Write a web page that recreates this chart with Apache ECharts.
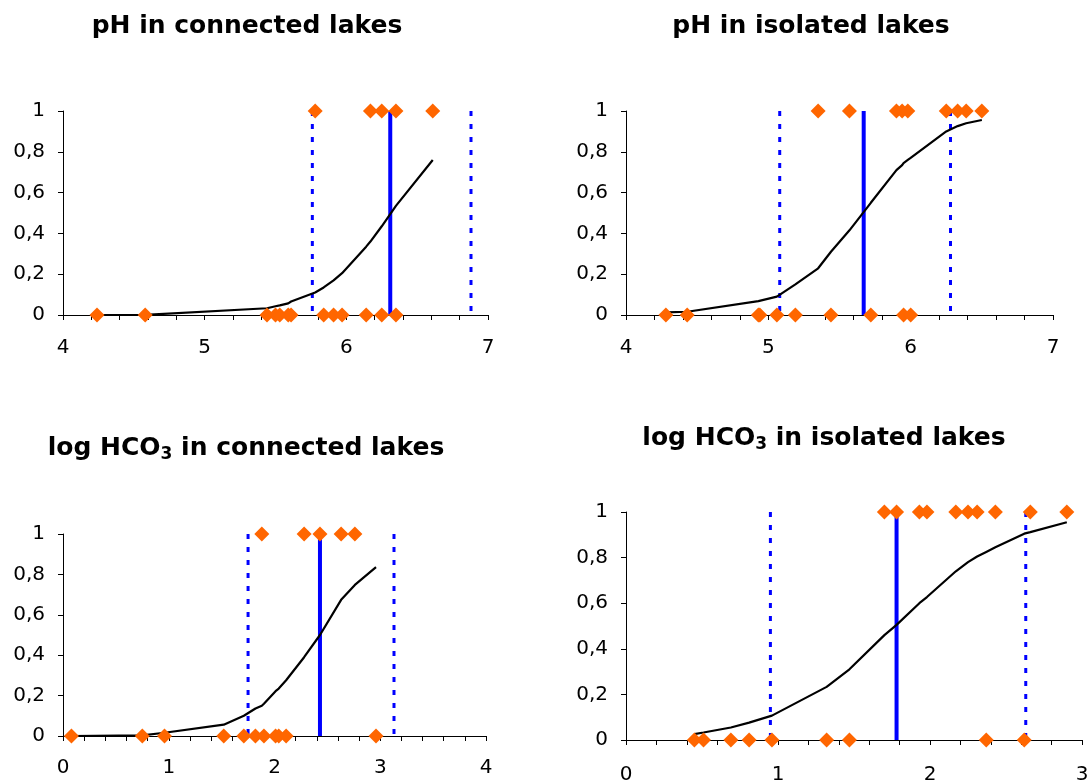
<!DOCTYPE html>
<html>
<head>
<meta charset="utf-8">
<script src="https://cdn.jsdelivr.net/npm/echarts@6/dist/echarts.min.js"></script>
<style>
  html, body { margin: 0; padding: 0; background: #fff; }
  #chart { width: 1088px; height: 782px; }
</style>
</head>
<body>
<div id="chart"></div>
<script>
// ---------- Titles ----------
const titles = ['pH in connected lakes', 'pH in isolated lakes', 'log HCO{sub|3} in connected lakes', 'log HCO{sub|3} in isolated lakes'];

// ---------- Axis ranges / tick labels ----------
const xMins = [4, 4, 0, 0];
const xMaxs = [7, 7, 4, 3];
const yTicks = [0, 0.2, 0.4, 0.6, 0.8, 1];

// ---------- Panel 1: pH in connected lakes ----------
const phConnAbsent = [4.24, 4.58, 5.44, 5.50, 5.53, 5.59, 5.61, 5.84, 5.91, 5.97, 6.14, 6.25, 6.35];
const phConnPresent = [5.78, 6.17, 6.25, 6.35, 6.61];
const phConnCurveX = [4.24, 4.58, 5.44, 5.50, 5.53, 5.59, 5.61, 5.78, 5.84, 5.91, 5.97, 6.14, 6.17, 6.25, 6.35, 6.61];
const phConnCurveY = [0.000, 0.001, 0.033, 0.043, 0.047, 0.057, 0.066, 0.110, 0.135, 0.170, 0.205, 0.335, 0.360, 0.435, 0.535, 0.760];
const phConnLines = { low: 5.76, mid: 6.31, high: 6.88 };

// ---------- Panel 2: pH in isolated lakes ----------
const phIsoAbsent = [4.28, 4.43, 4.93, 4.94, 5.06, 5.19, 5.44, 5.72, 5.95, 6.00];
const phIsoPresent = [5.35, 5.57, 5.90, 5.94, 5.98, 6.25, 6.33, 6.39, 6.50];
const phIsoCurveX = [4.28, 4.43, 4.93, 4.94, 5.06, 5.19, 5.35, 5.44, 5.57, 5.72, 5.90, 5.94, 5.95, 5.98, 6.00, 6.25, 6.33, 6.39, 6.50];
const phIsoCurveY = [0.013, 0.016, 0.068, 0.070, 0.090, 0.150, 0.229, 0.310, 0.415, 0.550, 0.710, 0.735, 0.745, 0.760, 0.770, 0.900, 0.926, 0.940, 0.956];
const phIsoLines = { low: 5.08, mid: 5.67, high: 6.28 };

// ---------- Panel 3: log HCO3 in connected lakes ----------
const hcoConnAbsent = [0.08, 0.75, 0.96, 1.52, 1.71, 1.82, 1.90, 2.01, 2.04, 2.11, 2.96];
const hcoConnPresent = [1.88, 2.28, 2.43, 2.63, 2.76];
const hcoConnCurveX = [0.08, 0.75, 0.96, 1.52, 1.71, 1.82, 1.88, 1.90, 2.01, 2.04, 2.11, 2.28, 2.43, 2.63, 2.76, 2.96];
const hcoConnCurveY = [0.000, 0.003, 0.016, 0.056, 0.100, 0.136, 0.150, 0.160, 0.222, 0.235, 0.276, 0.390, 0.500, 0.674, 0.748, 0.836];
const hcoConnLines = { low: 1.75, mid: 2.43, high: 3.13 };

// ---------- Panel 4: log HCO3 in isolated lakes ----------
const hcoIsoAbsent = [0.45, 0.51, 0.69, 0.81, 0.96, 1.32, 1.47, 2.37, 2.62];
const hcoIsoPresent = [1.70, 1.78, 1.93, 1.98, 2.17, 2.25, 2.31, 2.43, 2.66, 2.90];
const hcoIsoCurveX = [0.45, 0.51, 0.69, 0.81, 0.96, 1.32, 1.47, 1.70, 1.78, 1.93, 1.98, 2.17, 2.25, 2.31, 2.37, 2.43, 2.62, 2.66, 2.90];
const hcoIsoCurveY = [0.026, 0.033, 0.055, 0.076, 0.107, 0.233, 0.310, 0.460, 0.505, 0.600, 0.627, 0.740, 0.780, 0.805, 0.825, 0.845, 0.905, 0.912, 0.955];
const hcoIsoLines = { low: 0.95, mid: 1.78, high: 2.63 };

// ---------- Build ----------
const panels = [
  { absent: phConnAbsent, present: phConnPresent, cx: phConnCurveX, cy: phConnCurveY, lines: phConnLines },
  { absent: phIsoAbsent, present: phIsoPresent, cx: phIsoCurveX, cy: phIsoCurveY, lines: phIsoLines },
  { absent: hcoConnAbsent, present: hcoConnPresent, cx: hcoConnCurveX, cy: hcoConnCurveY, lines: hcoConnLines },
  { absent: hcoIsoAbsent, present: hcoIsoPresent, cx: hcoIsoCurveX, cy: hcoIsoCurveY, lines: hcoIsoLines }
];

const FONT = 'DejaVu Sans';
const grids = [
  { left: 63, top: 111, width: 425, height: 204 },
  { left: 626, top: 111, width: 427, height: 204 },
  { left: 63, top: 534, width: 423, height: 202 },
  { left: 626, top: 512, width: 456, height: 228 }
];
const xLabelMargins = [23, 23, 22, 25];
const titlePos = [[247, 26], [811, 26], [246, 448], [824, 438]];

const xAxes = [], yAxes = [], series = [];
panels.forEach((p, i) => {
  xAxes.push({
    type: 'value', gridIndex: i, min: xMins[i], max: xMaxs[i], interval: 1,
    axisLine: { show: true, onZero: false, lineStyle: { color: '#000', width: 1 } },
    axisTick: { show: true, length: 5, lineStyle: { color: '#000' } },
    minorTick: { show: true, splitNumber: 5, length: 5, lineStyle: { color: '#000' } },
    splitLine: { show: false }, minorSplitLine: { show: false },
    axisLabel: { color: '#000', fontFamily: FONT, fontSize: 20, margin: xLabelMargins[i] }
  });
  yAxes.push({
    type: 'value', gridIndex: i, min: yTicks[0], max: yTicks[yTicks.length - 1], interval: 0.2,
    axisLine: { show: true, onZero: false, lineStyle: { color: '#000', width: 1 } },
    axisTick: { show: true, length: 5, lineStyle: { color: '#000' } },
    splitLine: { show: false },
    axisLabel: {
      color: '#000', fontFamily: FONT, fontSize: 20, margin: 18,
      formatter: v => String(Math.round(v * 10) / 10).replace('.', ',')
    }
  });
  const dotted = { color: '#0000FF', width: 3, type: [5, 8] };
  ['low', 'high'].forEach(k => {
    series.push({
      type: 'line', xAxisIndex: i, yAxisIndex: i, symbol: 'none', silent: true,
      data: [[p.lines[k], 1], [p.lines[k], 0]], lineStyle: dotted, z: 1
    });
  });
  series.push({
    type: 'line', xAxisIndex: i, yAxisIndex: i, symbol: 'none', silent: true,
    data: [[p.lines.mid, 0], [p.lines.mid, 1]], lineStyle: { color: '#0000FF', width: 4 }, z: 2
  });
  series.push({
    type: 'line', xAxisIndex: i, yAxisIndex: i, symbol: 'none', smooth: false,
    data: p.cx.map((x, j) => [x, p.cy[j]]), lineStyle: { color: '#000', width: 2.2 }, z: 3
  });
  series.push({
    type: 'scatter', xAxisIndex: i, yAxisIndex: i, symbol: 'diamond', symbolSize: 15, clip: false,
    itemStyle: { color: '#FF6600', opacity: 1 }, z: 4,
    data: p.absent.map(x => [x, 0]).concat(p.present.map(x => [x, 1]))
  });
});

const graphics = titles.map((t, i) => ({
  type: 'text', x: titlePos[i][0], y: titlePos[i][1],
  style: {
    text: t, fill: '#000', fontFamily: FONT, fontWeight: 'bold', fontSize: 25, lineHeight: 30,
    align: 'center', verticalAlign: 'middle',
    rich: { sub: { fontFamily: FONT, fontWeight: 'bold', fontSize: 17, lineHeight: 17, verticalAlign: 'bottom', fill: '#000' } }
  }
}));

const chart = echarts.init(document.getElementById('chart'), null, { renderer: 'canvas' });
chart.setOption({
  animation: false,
  backgroundColor: '#fff',
  grid: grids.map(g => Object.assign({ containLabel: false, outerBoundsMode: 'none' }, g)),
  xAxis: xAxes,
  yAxis: yAxes,
  series: series,
  graphic: graphics
});
</script>
</body>
</html>
